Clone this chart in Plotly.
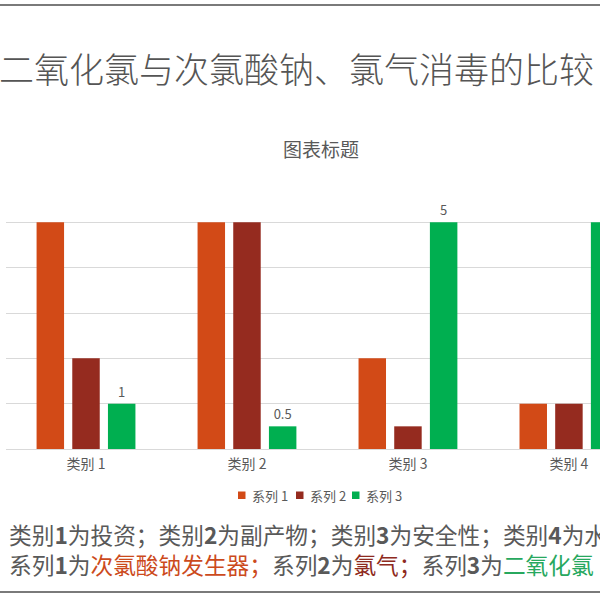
import plotly.graph_objects as go

categories = ["类别 1", "类别 2", "类别 3", "类别 4"]
series_names = ["系列 1", "系列 2", "系列 3"]
series1 = [5, 5, 2, 1]
series2 = [2, 5, 0.5, 1]
series3 = [1, 0.5, 5, 5]
series_colors = ["#D24A17", "#952B1F", "#00AF50"]

main_title = "二氧化氯与次氯酸钠、氯气消毒的比较"
chart_title = "图表标题"
note_line1 = ("类别<b>1</b>为投资；类别<b>2</b>为副产物；类别<b>3</b>为安全性；"
              "类别<b>4</b>为水质")
note_line2 = ("系列<b>1</b>为<span style='color:#CC4A1C'>次氯酸钠发生器；</span>"
              "系列<b>2</b>为<span style='color:#8E2A20'>氯气；</span>"
              "系列<b>3</b>为<span style='color:#27A85E'>二氧化氯</span>")

FONT = "Noto Sans CJK SC"
GRAY = "#595959"

Y_BASE = 449
PX_PER_UNIT = 45.33
Y_MAX = 6.02

fig = go.Figure()
all_series = [series1, series2, series3]
for i, (name, vals) in enumerate(zip(series_names, all_series)):
    fig.add_trace(go.Bar(
        x=categories, y=vals, name=name,
        marker=dict(color=series_colors[i], line=dict(width=0)),
        text=[str(v) for v in vals] if i == 2 else None,
        textposition="outside" if i == 2 else None,
        textfont=dict(family=FONT, size=13, color=GRAY),
        cliponaxis=False,
        showlegend=False,
    ))

fig.update_layout(
    width=600, height=600,
    margin=dict(l=0, r=0, t=0, b=0),
    paper_bgcolor="white", plot_bgcolor="white",
    barmode="group", bargap=0.335, bargroupgap=0.23,
    font=dict(family=FONT, color=GRAY),
    showlegend=False,
    xaxis=dict(domain=[0.01, 1], range=[-0.497, 3.193], showgrid=False,
               showline=False, ticks="", ticklabelstandoff=5,
               tickfont=dict(family=FONT, size=14, color=GRAY)),
    yaxis=dict(domain=[(600 - Y_BASE) / 600, (600 - (Y_BASE - Y_MAX * PX_PER_UNIT)) / 600],
               range=[0, Y_MAX], dtick=1,
               showgrid=True, gridcolor="#D9D9D9", gridwidth=1, zeroline=True,
               zerolinecolor="#D9D9D9", zerolinewidth=1, showticklabels=False, ticks=""),
)

# compact legend (square swatch + label), as in the reference
legend_left = [238, 296, 352]
for name, color, lx in zip(series_names, series_colors, legend_left):
    fig.add_shape(type="rect", xref="paper", yref="paper",
                  x0=lx / 600, x1=(lx + 7.5) / 600,
                  y0=(600 - 499) / 600, y1=(600 - 491.5) / 600,
                  fillcolor=color, line=dict(width=0))
    fig.add_annotation(text=name, xref="paper", yref="paper", x=(lx + 12) / 600,
                       y=(600 - 495) / 600, xanchor="left", yanchor="middle",
                       showarrow=False, font=dict(family=FONT, size=13, color=GRAY))

fig.add_annotation(text=main_title, xref="paper", yref="paper", x=0, xshift=-3,
                   y=(600 - 68) / 600, xanchor="left", yanchor="middle", showarrow=False,
                   font=dict(family=FONT, size=35, color="#555555", weight=300))
fig.add_annotation(text=chart_title, xref="paper", yref="paper", x=321 / 600,
                   y=(600 - 148) / 600, xanchor="center", yanchor="middle", showarrow=False,
                   font=dict(family=FONT, size=19, color=GRAY))
fig.add_annotation(text=note_line1 + "<br>" + note_line2, xref="paper", yref="paper",
                   x=7 / 600, y=(600 - 549.5) / 600, xanchor="left", yanchor="middle",
                   align="left", showarrow=False,
                   font=dict(family=FONT, size=22.7, color=GRAY))

for ypx in (5, 592):
    fig.add_shape(type="line", xref="paper", yref="paper", x0=0, x1=1,
                  y0=(600 - ypx) / 600, y1=(600 - ypx) / 600,
                  line=dict(color="#7A7A7A", width=2))

fig.write_html("out.html", config={"displayModeBar": False},
               post_script="document.body.style.margin='0';"
                           "document.body.style.overflow='hidden';")
